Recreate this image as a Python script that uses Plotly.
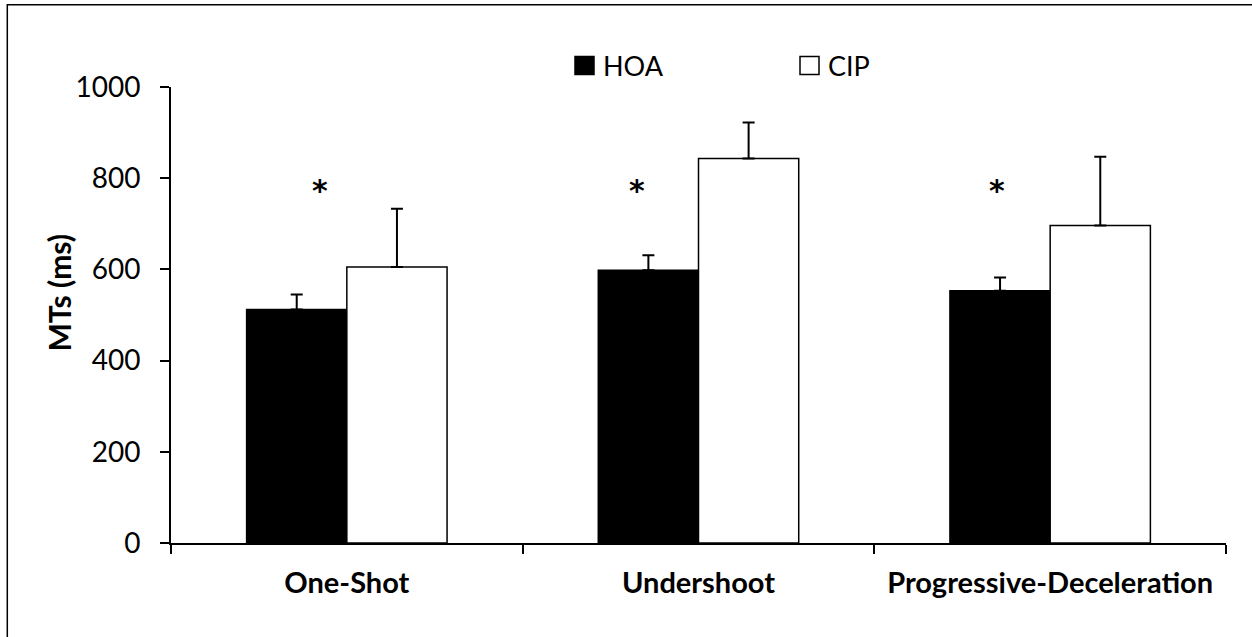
import plotly.graph_objects as go

categories = ["One-Shot", "Undershoot", "Progressive-Deceleration"]
hoa_mean = [512, 598, 553]
hoa_err = [33, 33, 29]
cip_mean = [605, 843, 696]
cip_err = [128, 79, 151]
y_ticks = [0, 200, 400, 600, 800, 1000]
series_names = ["HOA", "CIP"]
sig_marks = ["*", "*", "*"]
sig_level = 784
y_title = "MTs (ms)"

W, H = 1252, 637
ML, MR, MT, MB = 171, 26, 87, 94
PW = W - ML - MR
PH = H - MT - MB


def px2paper_x(px):
    return (px - ML) / PW


def px2paper_y(py):
    return (H - MB - py) / PH


FONT = "Lato"

fig = go.Figure()
fig.add_trace(go.Bar(
    x=categories, y=hoa_mean, name=series_names[0],
    marker=dict(color="black", line=dict(color="black", width=1.5)),
    error_y=dict(type="data", array=hoa_err, arrayminus=[0] * len(hoa_err),
                 symmetric=False, color="black", thickness=2, width=6),
    showlegend=False,
))
fig.add_trace(go.Bar(
    x=categories, y=cip_mean, name=series_names[1],
    marker=dict(color="white", line=dict(color="black", width=1.5)),
    error_y=dict(type="data", array=cip_err, arrayminus=[0] * len(cip_err),
                 symmetric=False, color="black", thickness=2, width=6),
    showlegend=False,
))

# significance asterisks
shifts = [-27, -62, -53]
for c, m, s in zip(categories, sig_marks, shifts):
    fig.add_annotation(x=c, y=sig_level, text=m, showarrow=False,
                       xshift=s, yshift=-5, yanchor="middle",
                       font=dict(family="DejaVu Sans", size=30, color="black",
                                 weight="bold"))

# manual legend
legend_items = [(series_names[0], "black", 575), (series_names[1], "white", 800)]
for name, col, x0 in legend_items:
    fig.add_shape(type="rect", xref="paper", yref="paper",
                  x0=px2paper_x(x0), x1=px2paper_x(x0 + 19),
                  y0=px2paper_y(74.5), y1=px2paper_y(56.5),
                  fillcolor=col, line=dict(color="black", width=1.5))
    fig.add_annotation(xref="paper", yref="paper", x=px2paper_x(x0 + 26),
                       y=px2paper_y(65.5), xanchor="left", yanchor="middle",
                       text=name, showarrow=False,
                       font=dict(family=FONT, size=27, color="black"))

# y-axis title
fig.add_annotation(xref="paper", yref="paper", x=px2paper_x(58.5),
                   y=px2paper_y(293), xanchor="center", yanchor="middle",
                   text=y_title, textangle=-90, showarrow=False,
                   font=dict(family=FONT, size=30, color="black", weight="bold"))

# outer frame (left and top edges visible)
fig.add_shape(type="rect", xref="paper", yref="paper",
              x0=px2paper_x(7.3), x1=px2paper_x(W + 50),
              y0=px2paper_y(H + 50), y1=px2paper_y(4.7),
              line=dict(color="black", width=1.5), fillcolor="rgba(0,0,0,0)",
              layer="below")

fig.update_layout(
    width=W, height=H, autosize=False,
    margin=dict(l=ML, r=MR, t=MT, b=MB),
    paper_bgcolor="white", plot_bgcolor="white",
    barmode="group", bargap=0.43, bargroupgap=0,
    font=dict(family=FONT, color="black"),
)
fig.update_xaxes(
    type="category", tickson="boundaries", ticks="outside", ticklen=9,
    tickwidth=2, tickcolor="black", showline=True, linecolor="black",
    linewidth=2, showgrid=False, ticklabelstandoff=13,
    tickfont=dict(family=FONT, size=29, color="black", weight="bold"),
)
fig.update_yaxes(
    range=[0, 1000], tickvals=y_ticks, ticks="outside", ticklen=9,
    tickwidth=2, tickcolor="black", showline=True, linecolor="black",
    linewidth=2, showgrid=False, zeroline=False, ticklabelstandoff=14,
    tickfont=dict(family=FONT, size=28, color="black"),
)

fig.write_html("out.html", config={"displayModeBar": False},
               post_script="document.body.style.margin='0';document.body.style.overflow='hidden';")
